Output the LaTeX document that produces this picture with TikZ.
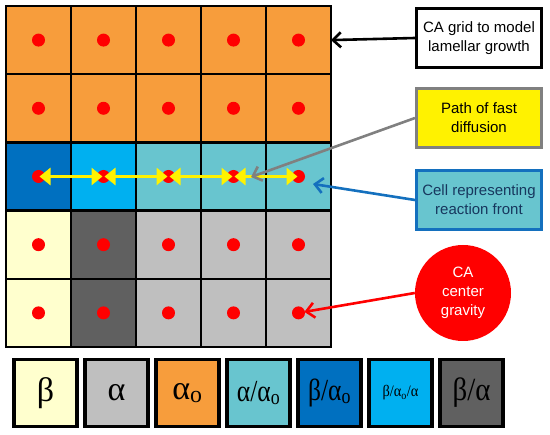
\documentclass[tikz,border=0pt]{standalone}
\usepackage{graphicx}
\usepackage{fontspec}
\setmainfont{Liberation Sans}
\newfontfamily\greekfont{Liberation Serif}
\usetikzlibrary{positioning, arrows.meta}
\definecolor{phaseao}{RGB}{247,157,60}
\definecolor{phasea}{RGB}{191,191,191}
\definecolor{phaseb}{RGB}{255,255,206}
\definecolor{phaseba}{RGB}{96,96,96}
\definecolor{phasebao}{RGB}{0,112,192}
\definecolor{phasebaoa}{RGB}{0,176,240}
\definecolor{phaseaao}{RGB}{104,197,207}
\definecolor{navytext}{RGB}{23,55,94}
\definecolor{frontblue}{RGB}{20,112,190}

\begin{document}
\begin{tikzpicture}[
        x=1pt, y=1pt,
        node distance=0pt,
        cell/.style={draw, line width=2.3pt, minimum width=65pt, minimum height=68.2pt, inner sep=0pt, outer sep=0pt,
            path picture={\fill[red] (path picture bounding box.center) circle (6.5pt);}},
        aocell/.style={cell, fill=phaseao},
        acell/.style={cell, fill=phasea},
        bcell/.style={cell, fill=phaseb},
        bacell/.style={cell, fill=phaseba},
        frontcell/.style={cell, fill=phaseaao},
        key/.style={draw, line width=3.2pt, minimum width=63pt, minimum height=67pt, inner sep=0pt, outer sep=0pt,
            font=\greekfont\fontsize{34}{36}\selectfont},
        note/.style={draw, line width=3pt, minimum width=125pt, minimum height=59pt, inner sep=2pt, align=center,
            font=\fontsize{15}{19}\selectfont, fill=white},
        pointer/.style={-{Straight Barb[length=8pt,width=15pt]}, line width=2.6pt},
        diffuse/.style={{Triangle[length=11pt,width=17pt]}-{Triangle[length=11pt,width=17pt]}, line width=3.6pt, yellow, shorten <=1pt, shorten >=1pt},
    ]
        \useasboundingbox (0,0) rectangle (550,-435);

        % CA grid, row by row
        \node[aocell] (c11) at (38.5,-40.1) {};
        \node[aocell, right=of c11] (c12) {};
        \node[aocell, right=of c12] (c13) {};
        \node[aocell, right=of c13] (c14) {};
        \node[aocell, right=of c14] (c15) {};

        \node[aocell, below=of c11] (c21) {};
        \node[aocell, right=of c21] (c22) {};
        \node[aocell, right=of c22] (c23) {};
        \node[aocell, right=of c23] (c24) {};
        \node[aocell, right=of c24] (c25) {};

        \node[cell, fill=phasebao, below=of c21] (c31) {};
        \node[cell, fill=phasebaoa, right=of c31] (c32) {};
        \node[frontcell, right=of c32] (c33) {};
        \node[frontcell, right=of c33] (c34) {};
        \node[frontcell, right=of c34] (c35) {};

        \node[bcell, below=of c31] (c41) {};
        \node[bacell, right=of c41] (c42) {};
        \node[acell, right=of c42] (c43) {};
        \node[acell, right=of c43] (c44) {};
        \node[acell, right=of c44] (c45) {};

        \node[bcell, below=of c41] (c51) {};
        \node[bacell, right=of c51] (c52) {};
        \node[acell, right=of c52] (c53) {};
        \node[acell, right=of c53] (c54) {};
        \node[acell, right=of c54] (c55) {};

        % Fast diffusion along the front
        \draw[diffuse] (c31.center) -- (c32.center);
        \draw[diffuse] (c32.center) -- (c33.center);
        \draw[diffuse] (c33.center) -- (c34.center);
        \draw[diffuse] (c34.center) -- (c35.center);

        % Legend
        \node[key, fill=phaseb] (kb) at (45.5,-393) {β};
        \node[key, fill=phasea, right=8pt of kb] (ka) {α};
        \node[key, fill=phaseao, right=8pt of ka] (kao) {α\textsubscript{o}};
        \node[key, fill=phaseaao, right=8pt of kao] (kaao) {\scalebox{0.75}[0.9]{α/α\textsubscript{o}}};
        \node[key, fill=phasebao, right=8pt of kaao] (kbao) {\scalebox{0.75}[0.9]{β/α\textsubscript{o}}};
        \node[key, fill=phasebaoa, right=8pt of kbao, font=\greekfont\fontsize{16}{18}\selectfont] (kbaoa) {\scalebox{0.9}[1]{β/α\textsubscript{o}/α}};
        \node[key, fill=phaseba, right=8pt of kbaoa] (kba) {\scalebox{0.85}[0.95]{β/α}};

        % Labels
        \node[note] (ngrid) at (479,-38) {CA grid to model\\lamellar growth};
        \node[note, draw=gray, fill=yellow] (npath) at (479,-118) {Path of fast\\diffusion};
        \node[note, draw=frontblue, fill=phaseaao, text=navytext] (nfront) at (479,-200) {Cell representing\\reaction front};
        \node[circle, fill=red, minimum size=96pt, inner sep=0pt, align=center, text=white,
            font=\fontsize{15}{19}\selectfont] (ngravity) at (463,-293) {CA\\center\\gravity};

        \coordinate (fast) at (251,-177);
        \coordinate (front) at (313,-184);

        \draw[pointer] (ngrid.west) -- (c15.east);
        \draw[pointer, gray] (npath.west) -- (fast);
        \draw[pointer, frontblue] (nfront.west) -- (front);
        \draw[pointer, red, shorten >=6pt] (ngravity.west) -- (c55.center);
    \end{tikzpicture}
\end{document}
